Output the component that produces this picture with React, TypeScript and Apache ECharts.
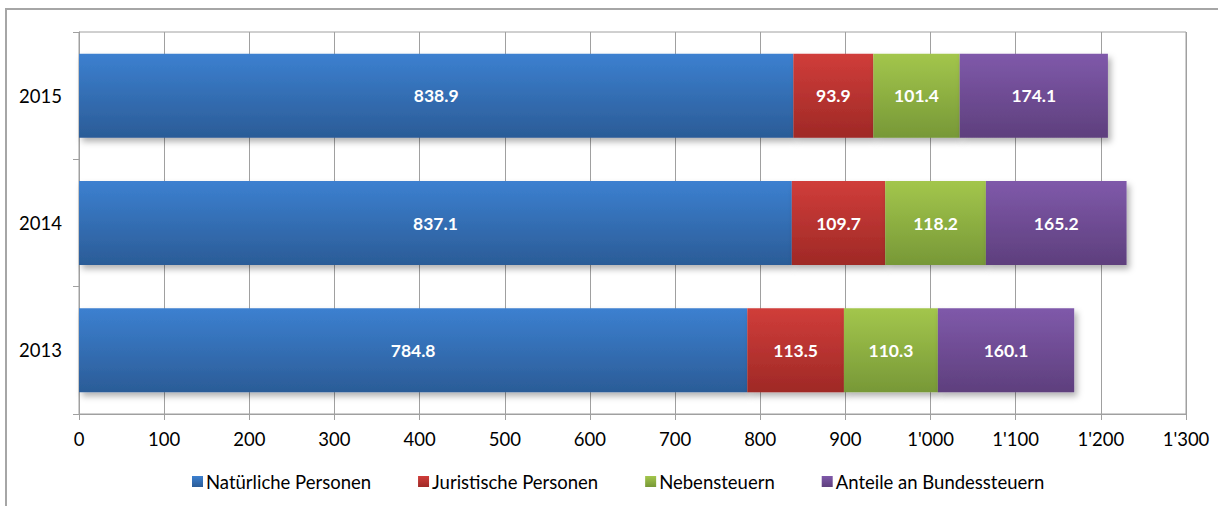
import React, { useEffect, useRef } from "react";
import * as echarts from "echarts";

const years = ["2013", "2014", "2015"];
const seriesNames = ["Natürliche Personen", "Juristische Personen", "Nebensteuern", "Anteile an Bundessteuern"];
const natuerliche = [784.8, 837.1, 838.9];
const juristische = [113.5, 109.7, 93.9];
const nebensteuern = [110.3, 118.2, 101.4];
const anteile = [160.1, 165.2, 174.1];
const xTicks = [0, 100, 200, 300, 400, 500, 600, 700, 800, 900, 1000, 1100, 1200, 1300];

const gradients: [string, string][] = [
  ["#3c80d0", "#2b5c97"],
  ["#d03d3a", "#9f2926"],
  ["#a3c64c", "#779837"],
  ["#7f59aa", "#5e3f7d"],
];

const fmtTick = (v: number) => {
  const s = String(Math.round(v));
  return s.length > 3 ? s.slice(0, s.length - 3) + "'" + s.slice(s.length - 3) : s;
};

const FONT = "Lato, 'Open Sans', sans-serif";

export default function App() {
  const ref = useRef<HTMLDivElement>(null);
  useEffect(() => {
    if (!ref.current) return;
    const chart = echarts.init(ref.current, undefined, { renderer: "svg" });
    const dataSets = [natuerliche, juristische, nebensteuern, anteile];
    chart.setOption({
      animation: false,
      textStyle: { fontFamily: FONT },
      graphic: [
        {
          type: "rect",
          shape: { x: 6, y: 9, width: 1400, height: 700 },
          style: { fill: "none", stroke: "#a6a6a6", lineWidth: 2 },
          silent: true,
          z: -10,
        },
      ],
      grid: {
        left: 79,
        right: 32,
        top: 32,
        bottom: 92,
        show: true,
        borderColor: "#a0a0a0",
        borderWidth: 1,
        backgroundColor: "transparent",
      },
      legend: {
        bottom: 15,
        left: 192,
        icon: "rect",
        itemWidth: 11,
        itemHeight: 11,
        itemGap: 47,
        padding: 0,
        textStyle: { fontSize: 18.5, color: "#000", fontFamily: FONT, padding: [0, 0, 0, -2] },
        data: seriesNames,
      },
      xAxis: {
        type: "value",
        min: 0,
        max: 1300,
        interval: 100,
        axisLine: { show: true, lineStyle: { color: "#a0a0a0" } },
        axisTick: { show: true, length: 6, lineStyle: { color: "#a0a0a0" } },
        splitLine: { show: true, lineStyle: { color: "#a0a0a0", width: 1 } },
        axisLabel: {
          color: "#000",
          fontSize: 18.5,
          margin: 15,
          fontFamily: FONT,
          formatter: (v: number) => (xTicks.includes(v) ? fmtTick(v) : ""),
        },
      },
      yAxis: {
        type: "category",
        data: years,
        axisLine: { show: true, lineStyle: { color: "#a0a0a0" } },
        axisTick: { show: true, length: 6, lineStyle: { color: "#a0a0a0" } },
        axisLabel: { color: "#000", fontSize: 18.5, margin: 17, fontFamily: FONT },
        splitLine: { show: false },
      },
      series: seriesNames.map((name, i) => ({
        name,
        type: "bar",
        stack: "total",
        barWidth: 84,
        data: dataSets[i],
        itemStyle: {
          color: new echarts.graphic.LinearGradient(0, 0, 0, 1, [
            { offset: 0, color: gradients[i][0] },
            { offset: 1, color: gradients[i][1] },
          ]),
          shadowBlur: 6,
          shadowOffsetX: 3,
          shadowOffsetY: 4,
          shadowColor: "rgba(0,0,0,0.3)",
        },
        label: {
          show: true,
          position: "inside",
          color: "#fff",
          fontWeight: "bold",
          fontSize: 17.5,
          fontFamily: FONT,
          formatter: (p: any) => Number(p.value).toFixed(1),
        },
      })),
    });
    return () => chart.dispose();
  }, []);
  return (
    <div
      ref={ref}
      style={{ position: "fixed", left: 0, top: 0, width: 1218, height: 506, background: "#fff" }}
    />
  );
}
